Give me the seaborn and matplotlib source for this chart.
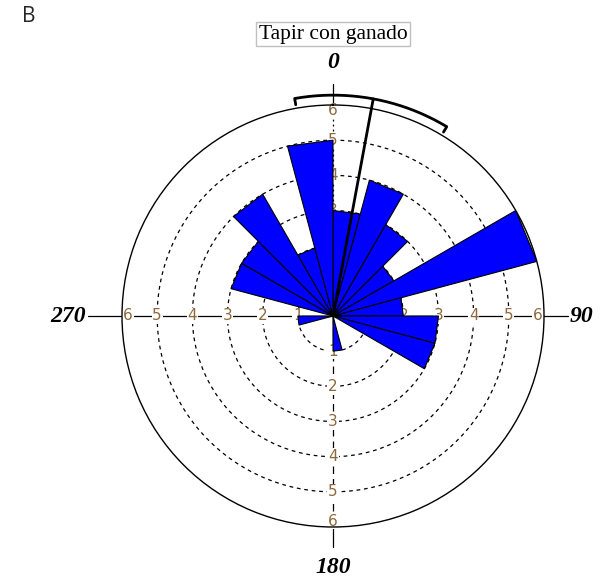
import numpy as np
import pandas as pd
import matplotlib
matplotlib.use("Agg")
import matplotlib.pyplot as plt
import seaborn as sns

# Rose diagram: number of records per 15-degree sector (clockwise from north)
bin_start_deg = [0, 15, 30, 45, 60, 75, 90, 105, 120, 135, 150, 165,
                 180, 195, 210, 225, 240, 255, 270, 285, 300, 315, 330, 345]
counts = [3, 4, 3, 2, 6, 2, 3, 3, 0, 0, 0, 1,
          0, 0, 0, 0, 0, 1, 0, 3, 3, 4, 2, 5]
bin_width_deg = 15

# Mean direction and its confidence interval (degrees)
mean_angle_deg = 10.5
ci_low_deg = 350.0
ci_high_deg = 31.0

ring_values = [1, 2, 3, 4, 5, 6]
direction_labels = ["0", "90", "180", "270"]
title_text = "Tapir con ganado"
panel_letter = "B"

sns.set_style("white")
plt.rcParams["font.family"] = ["DejaVu Sans"]

W, H = 602, 583
fig = plt.figure(figsize=(W / 100, H / 100), dpi=100)
fig.patch.set_facecolor("white")

cx, cy, rad = 333, 316, 211
ax = fig.add_axes([(cx - rad) / W, (H - cy - rad) / H, 2 * rad / W, 2 * rad / H],
                  projection="polar")
ax.set_theta_zero_location("N")
ax.set_theta_direction(-1)
ax.set_facecolor("white")

rmax = max(ring_values)
full = np.linspace(0, 2 * np.pi, 721)

# dashed concentric rings
for r in ring_values[:-1]:
    ax.plot(full, np.full_like(full, r), color="black", lw=0.9,
            ls=(0, (3, 3)), zorder=1)

# cardinal axes
lab_color = "#8c6a3c"
ax.plot([np.pi / 2, np.pi / 2], [0, 6.68], color="black", lw=0.9, zorder=1, clip_on=False)
ax.plot([3 * np.pi / 2, 3 * np.pi / 2], [0, 6.98], color="black", lw=0.9, zorder=1, clip_on=False)
ax.plot([0, 0], [0, rmax], color="black", lw=0.9, ls=(0, (1.5, 2.5)), zorder=1)
ax.plot([0, 0], [rmax, 6.6], color="black", lw=0.9, zorder=1, clip_on=False)
ax.plot([np.pi, np.pi], [0, rmax], color="black", lw=0.9, ls=(0, (6, 4)), zorder=1)
ax.plot([np.pi, np.pi], [rmax, 6.58], color="black", lw=0.9, zorder=1, clip_on=False)

for th in [0, np.pi / 2, np.pi, 3 * np.pi / 2]:
    for r in ring_values:
        rr = r if r < rmax else rmax - 0.17
        ax.text(th, rr, str(r), ha="center", va="center", fontsize=11,
                color=lab_color, zorder=1.5,
                bbox=dict(boxstyle="square,pad=0.05", fc="white", ec="none"))

# bars
df = pd.DataFrame({
    "theta": np.deg2rad(np.array(bin_start_deg) + bin_width_deg / 2),
    "count": counts,
})
sns.barplot(data=df, x="theta", y="count", native_scale=True, width=1.0,
            color="#0000ff", saturation=1, edgecolor="black", linewidth=0.8,
            errorbar=None, ax=ax, zorder=3)
for p in ax.patches:
    p.set_zorder(3)
    # straight outer edges (polygonal petals)
    p.get_path()._interpolation_steps = 1

ax.set_xlim(0, 2 * np.pi)
ax.set_ylim(0, rmax)
ax.set_xticks([])
ax.set_yticks([])
ax.grid(False)
ax.set_xlabel("")
ax.set_ylabel("")
ax.spines["polar"].set_linewidth(1.0)
ax.spines["polar"].set_color("black")

# mean vector and confidence arc
r_arc = 6.28
m = np.deg2rad(mean_angle_deg)
ax.plot([m, m], [0, r_arc], color="black", lw=2.0, zorder=5, clip_on=False)
arc = np.deg2rad(np.linspace(ci_low_deg - 360, ci_high_deg, 200))
ax.plot(arc, np.full_like(arc, r_arc), color="black", lw=2.0, zorder=5,
        clip_on=False, solid_capstyle="butt")
for a in [ci_low_deg, ci_high_deg]:
    ax.plot([np.deg2rad(a)] * 2, [r_arc, r_arc - 0.18], color="black", lw=2.0,
            zorder=5, clip_on=False)

# direction labels
dfont = dict(family=["Liberation Serif", "DejaVu Serif"], weight="bold",
             style="italic", fontsize=17, color="black")
ax.text(0, 7.2, direction_labels[0], ha="center", va="center", **dfont)
ax.text(np.pi / 2, 6.72, direction_labels[1], ha="left", va="center", **dfont)
ax.text(np.pi, 7.15, direction_labels[2], ha="center", va="center", **dfont)
ax.text(3 * np.pi / 2, 7.02, direction_labels[3], ha="right", va="center", **dfont)

fig.text(cx / W, 1 - 34 / H, title_text, ha="center", va="center",
         family=["Liberation Serif", "DejaVu Serif"], fontsize=15.5, color="black",
         bbox=dict(boxstyle="square,pad=0.12", fc="white", ec="#c0c0c0", lw=1))
fig.text(22 / W, 1 - 16 / H, panel_letter, ha="left", va="center",
         family=["Open Sans", "DejaVu Sans"], fontsize=15)

fig.savefig("out.png", dpi=100, facecolor="white")
